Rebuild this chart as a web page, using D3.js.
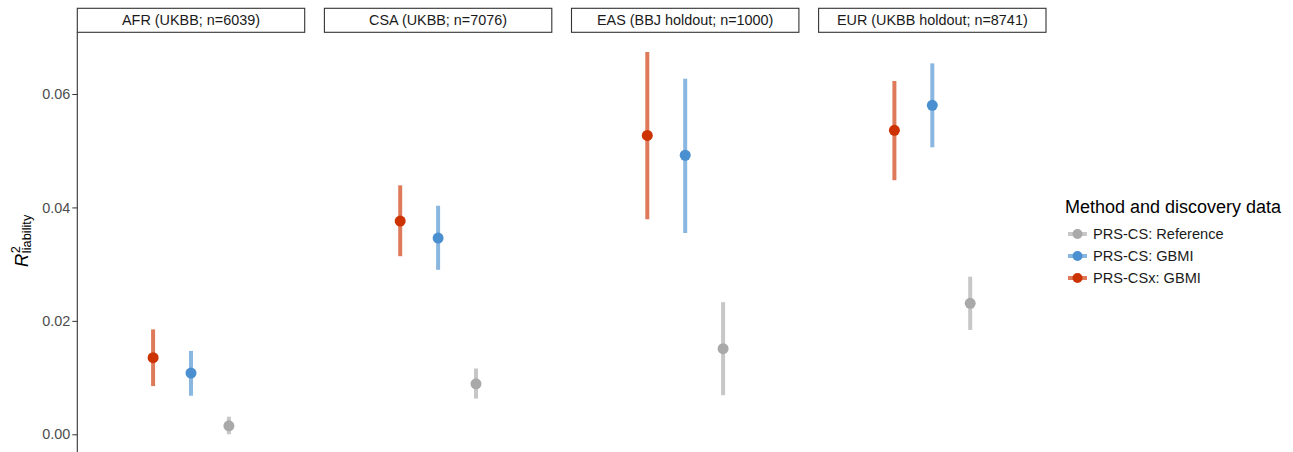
<!DOCTYPE html>
<html>
<head>
<meta charset="utf-8">
<script src="https://cdn.jsdelivr.net/npm/d3@7"></script>
<style>
  body { margin: 0; background: #fff; }
  svg { display: block; font-family: "Liberation Sans", Arial, sans-serif; }
</style>
</head>
<body>
<svg id="chart" width="1293" height="452"></svg>
<script>
// ---- data ----
const facets = ["AFR (UKBB; n=6039)", "CSA (UKBB; n=7076)", "EAS (BBJ holdout; n=1000)", "EUR (UKBB holdout; n=8741)"];
const methods = ["PRS-CSx: GBMI", "PRS-CS: GBMI", "PRS-CS: Reference"];
const legendOrder = ["PRS-CS: Reference", "PRS-CS: GBMI", "PRS-CSx: GBMI"];
const colors = ["#CC3300", "#4A90D0", "#A9A9A9"]; // by methods order
// estimates, lower and upper bounds per facet
const estPRSCSx = [0.0135, 0.0376, 0.0527, 0.0536];
const lowPRSCSx = [0.0085, 0.0314, 0.0379, 0.0448];
const highPRSCSx = [0.0185, 0.0439, 0.0674, 0.0623];
const estPRSCS = [0.0108, 0.0346, 0.0492, 0.0580];
const lowPRSCS = [0.0068, 0.0290, 0.0355, 0.0506];
const highPRSCS = [0.0147, 0.0403, 0.0627, 0.0654];
const estRef = [0.0015, 0.0089, 0.0151, 0.0231];
const lowRef = [0.0000, 0.0063, 0.0069, 0.0184];
const highRef = [0.0031, 0.0116, 0.0233, 0.0278];
const yTicks = [0.00, 0.02, 0.04, 0.06];

const rows = [];
facets.forEach((f, i) => {
  rows.push({facet: f, method: methods[0], est: estPRSCSx[i], lo: lowPRSCSx[i], hi: highPRSCSx[i]});
  rows.push({facet: f, method: methods[1], est: estPRSCS[i], lo: lowPRSCS[i], hi: highPRSCS[i]});
  rows.push({facet: f, method: methods[2], est: estRef[i], lo: lowRef[i], hi: highRef[i]});
});

// ---- layout ----
const svg = d3.select("#chart");
const plotLeft = 77.3, plotRight = 1046, panelTop = 32.3, stripTop = 8.3;
const fx = d3.scaleBand().domain(facets).range([plotLeft, plotRight]).paddingInner(0.0797).paddingOuter(0);
const bw = fx.bandwidth();
const x = d3.scalePoint().domain(methods).range([0, bw]).padding(2);
const y = d3.scaleLinear().domain([0, 0.06]).range([434.3, 94]);
const color = d3.scaleOrdinal().domain(methods).range(colors);
const lightColor = m => {
  const c = d3.rgb(color(m));
  const a = 0.65;
  return d3.rgb(c.r * a + 255 * (1 - a), c.g * a + 255 * (1 - a), c.b * a + 255 * (1 - a)).toString();
};

// strips
const strips = svg.append("g").selectAll("g").data(facets).join("g")
  .attr("transform", d => `translate(${fx(d)},${stripTop})`);
strips.append("rect").attr("x", 0).attr("y", 0).attr("width", bw).attr("height", panelTop - stripTop)
  .attr("fill", "#fff").attr("stroke", "#333").attr("stroke-width", 1.1);
strips.append("text").attr("x", bw / 2).attr("y", (panelTop - stripTop) / 2 + 5)
  .attr("text-anchor", "middle").attr("font-size", 14.4).attr("fill", "#1A1A1A").text(d => d);

// y axis
const yAxis = d3.axisLeft(y).tickValues(yTicks).tickFormat(d3.format(".2f")).tickSize(5).tickPadding(2);
const ga = svg.append("g").attr("transform", `translate(${plotLeft},0)`).call(yAxis);
ga.select(".domain").remove();
ga.selectAll(".tick line").attr("stroke", "#333").attr("stroke-width", 1);
ga.selectAll(".tick text").attr("font-size", 14.4).attr("fill", "#4D4D4D")
  .attr("font-family", "\"Liberation Sans\", Arial, sans-serif");
svg.append("line").attr("x1", plotLeft).attr("x2", plotLeft).attr("y1", panelTop).attr("y2", 460)
  .attr("stroke", "#333").attr("stroke-width", 1.1);

// y label
const yl = svg.append("g").attr("transform", "translate(28,267) rotate(-90)");
const rT = yl.append("text").attr("x", 0).attr("y", 0).attr("font-size", 18.5).attr("font-style", "italic").attr("fill", "#000").text("R");
const rw = rT.node().getComputedTextLength();
yl.append("text").attr("x", rw + 0.5).attr("y", -8).attr("font-size", 12.8).attr("fill", "#000").text("2");
yl.append("text").attr("x", rw + 0.5).attr("y", 3).attr("font-size", 12.8).attr("fill", "#000").text("liability");

// marks
const panels = svg.append("g").selectAll("g").data(facets).join("g")
  .attr("transform", d => `translate(${fx(d)},0)`);
panels.selectAll("line.err").data(f => rows.filter(r => r.facet === f)).join("line")
  .attr("class", "err")
  .attr("x1", d => x(d.method)).attr("x2", d => x(d.method))
  .attr("y1", d => y(d.lo)).attr("y2", d => y(d.hi))
  .attr("stroke", d => lightColor(d.method)).attr("stroke-width", 4);
panels.selectAll("circle").data(f => rows.filter(r => r.facet === f)).join("circle")
  .attr("cx", d => x(d.method)).attr("cy", d => y(d.est)).attr("r", 5.5)
  .attr("fill", d => color(d.method));

// legend
const lg = svg.append("g").attr("transform", "translate(1065,0)");
lg.append("text").attr("x", 0).attr("y", 213).attr("font-size", 18).attr("fill", "#000").text("Method and discovery data");
const items = lg.selectAll("g.item").data(legendOrder).join("g").attr("class", "item")
  .attr("transform", (d, i) => `translate(0,${234 + i * 22})`);
items.append("line").attr("x1", 3).attr("x2", 22).attr("y1", 0).attr("y2", 0)
  .attr("stroke", d => lightColor(d)).attr("stroke-width", 4);
items.append("circle").attr("cx", 12.5).attr("cy", 0).attr("r", 5).attr("fill", d => color(d));
items.append("text").attr("x", 28).attr("y", 5).attr("font-size", 14.6).attr("fill", "#1A1A1A").text(d => d);
</script>
</body>
</html>
